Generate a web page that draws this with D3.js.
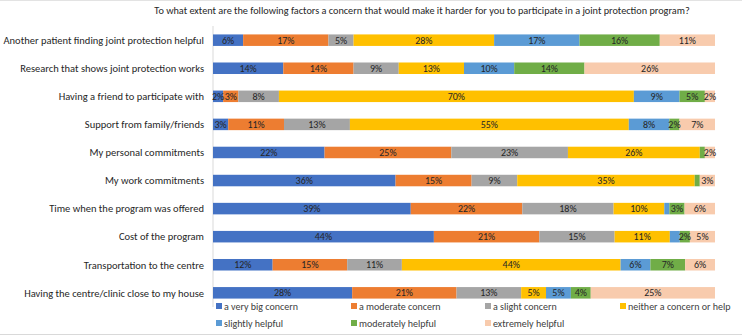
<!DOCTYPE html>
<html>
<head>
<meta charset="utf-8">
<script src="https://cdn.jsdelivr.net/npm/d3@7"></script>
<style>
  body { margin:0; background:#fff; }
  svg { display:block; font-family:"Liberation Sans Narrow", Carlito, Lato, "Open Sans", sans-serif; }
</style>
</head>
<body>
<svg id="chart" width="742" height="336"></svg>
<script>
const title = "To what extent are the following factors a concern that would make it harder for you to participate in a joint protection program?";

const categories = [
  "Another patient finding joint protection helpful",
  "Research that shows joint protection works",
  "Having a friend to participate with",
  "Support from family/friends",
  "My personal commitments",
  "My work commitments",
  "Time when the program was offered",
  "Cost of the program",
  "Transportation to the centre",
  "Having the centre/clinic close to my house"
];

const seriesNames = [
  "a very big concern", "a moderate concern", "a slight concern",
  "neither a concern or help", "slightly helpful", "moderately helpful", "extremely helpful"
];

const veryBig    = [6, 14, 2, 3, 22, 36, 39, 44, 12, 28];
const moderate   = [17, 14, 3, 11, 25, 15, 22, 21, 15, 21];
const slight     = [5, 9, 8, 13, 23, 9, 18, 15, 11, 13];
const neither    = [28, 13, 70, 55, 26, 35, 10, 11, 44, 5];
const slightlyH  = [17, 10, 9, 8, 0, 0, 1, 2, 6, 5];
const moderatelyH= [16, 14, 5, 2, 1, 1, 3, 2, 7, 4];
const extremelyH = [11, 26, 2, 7, 2, 3, 6, 5, 6, 25];

// segments whose label Excel did not show ([row, series])
const hiddenLabels = [[7, 4]];

const colors = ["#4472C4", "#ED7D31", "#A5A5A5", "#FFC000", "#5B9BD5", "#70AD47", "#F8CBAD"];

const allSeries = [veryBig, moderate, slight, neither, slightlyH, moderatelyH, extremelyH];
const table = categories.map((c, i) => {
  const row = {cat: c, idx: i};
  seriesNames.forEach((s, j) => row[s] = allSeries[j][i]);
  return row;
});

const svg = d3.select("#chart");
const W = 742, H = 336;
const margin = {left:213, right:27, top:26, bottom:29};

svg.append("text")
  .attr("x", 422).attr("y", 14)
  .attr("text-anchor", "middle")
  .attr("font-size", 10.25)
  .attr("fill", "#262626")
  .text(title);

const x = d3.scaleLinear().domain([0, 1]).range([margin.left, W - margin.right]);
const y = d3.scaleBand().domain(categories).range([margin.top, H - margin.bottom]).paddingInner(0.59).paddingOuter(0.3);

const stack = d3.stack().keys(seriesNames).offset(d3.stackOffsetExpand);
const layers = stack(table);

// axis line
svg.append("line")
  .attr("x1", margin.left).attr("x2", margin.left)
  .attr("y1", margin.top).attr("y2", H - margin.bottom)
  .attr("stroke", "#D9D9D9");

const g = svg.append("g");
layers.forEach((layer, j) => {
  const lg = g.append("g").attr("fill", colors[j]);
  lg.selectAll("rect").data(layer).join("rect")
    .attr("x", d => x(d[0]))
    .attr("width", d => x(d[1]) - x(d[0]))
    .attr("y", d => y(d.data.cat))
    .attr("height", y.bandwidth());
});

layers.forEach((layer, j) => {
  g.append("g").selectAll("text").data(layer.filter(d => {
      const v = d.data[seriesNames[j]];
      return v >= 2 && !hiddenLabels.some(h => h[0] === d.data.idx && h[1] === j);
    }))
    .join("text")
    .attr("x", d => (x(d[0]) + x(d[1])) / 2)
    .attr("y", d => y(d.data.cat) + y.bandwidth() / 2)
    .attr("dy", "0.36em")
    .attr("text-anchor", "middle")
    .attr("font-size", 10)
    .attr("fill", "#262626")
    .text(d => d.data[seriesNames[j]] + "%");
});

// category labels
svg.append("g").selectAll("text").data(categories).join("text")
  .attr("x", margin.left - 9)
  .attr("y", d => y(d) + y.bandwidth() / 2)
  .attr("dy", "0.36em")
  .attr("text-anchor", "end")
  .attr("font-size", 10.5)
  .attr("fill", "#262626")
  .text(d => d);

// legend
const legendX = [216, 351, 485, 620];
const legendY = [306, 323];
const legend = svg.append("g").selectAll("g").data(seriesNames).join("g")
  .attr("transform", (d, i) => `translate(${legendX[i % 4]},${legendY[Math.floor(i / 4)]})`);
legend.append("rect")
  .attr("x", 0).attr("y", -3).attr("width", 6).attr("height", 6)
  .attr("fill", (d, i) => colors[i]);
legend.append("text")
  .attr("x", 8).attr("dy", "0.36em")
  .attr("font-size", 10)
  .attr("fill", "#404040")
  .text(d => d);

// chart border (top / bottom)
svg.append("line")
  .attr("x1", 0).attr("x2", W).attr("y1", 0.5).attr("y2", 0.5)
  .attr("stroke", "#E3E3E3");
svg.append("line")
  .attr("x1", 0).attr("x2", W).attr("y1", H - 1.5).attr("y2", H - 1.5)
  .attr("stroke", "#D9D9D9");
</script>
</body>
</html>
